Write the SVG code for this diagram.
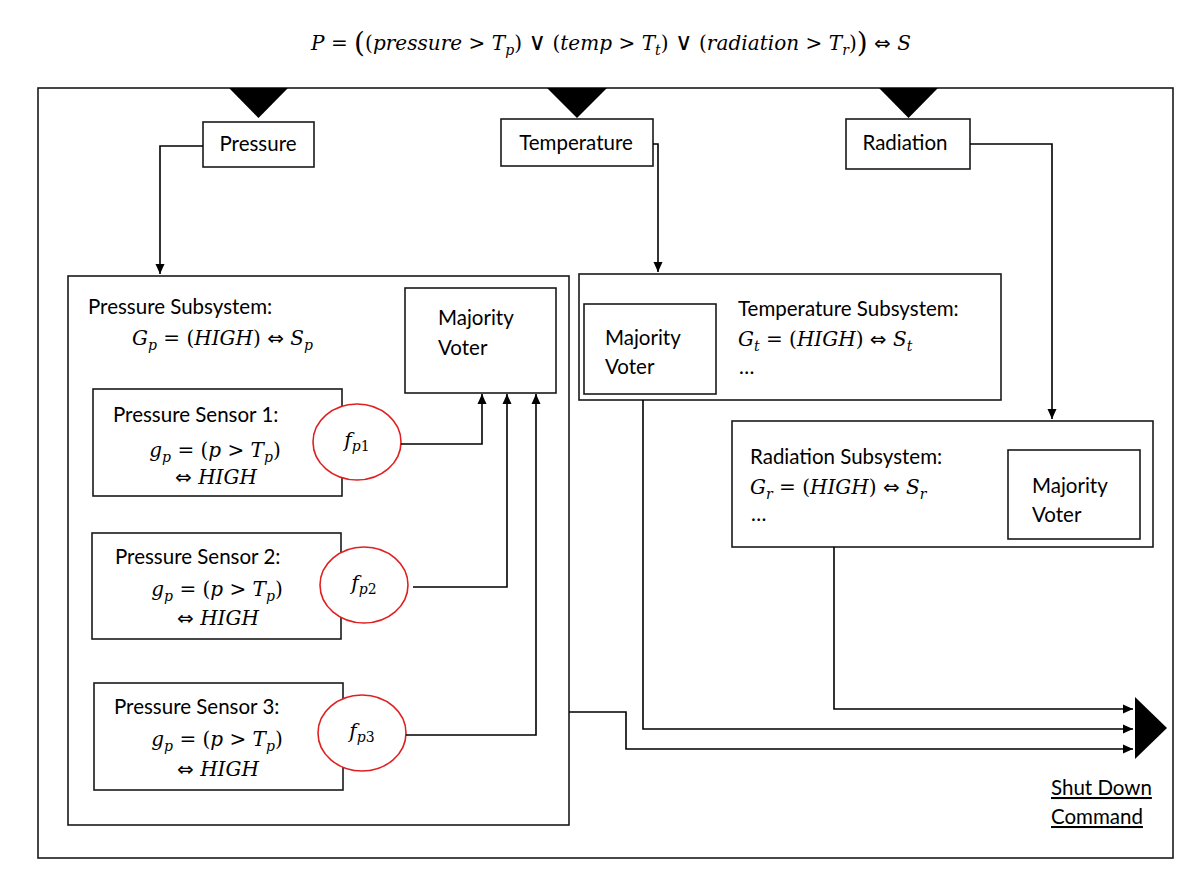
<svg xmlns="http://www.w3.org/2000/svg" width="1188" height="874" viewBox="0 0 1188 874">
<defs>
<style>
.box{fill:#fff;stroke:#1a1a1a;stroke-width:1.6}
.wire{fill:none;stroke:#000;stroke-width:1.6}
.circ{fill:#fff;stroke:#e02020;stroke-width:1.6}
.tri{fill:#000}
.lbl{font-family:Lato,"Liberation Sans",sans-serif;font-size:20.5px;fill:#000}
.m{font-family:"DejaVu Serif","Liberation Serif",serif;font-size:20px;fill:#000}
.i{font-style:italic}
.s{font-style:italic;font-size:14px}
.op{font-family:"DejaVu Sans",sans-serif;font-style:normal}
</style>
<marker id="ah" viewBox="0 0 10 10" refX="10" refY="5" markerWidth="10" markerHeight="10" markerUnits="userSpaceOnUse" orient="auto"><path d="M0,0.5 L10,5 L0,9.5 z" fill="#000"/></marker>
</defs>
<rect width="1188" height="874" fill="#fff"/>

<g id="formula">
<text class="m" x="311" y="50" font-size="21" textLength="600" lengthAdjust="spacing"><tspan class="i">P</tspan> = <tspan font-size="28" dy="2">(</tspan><tspan dy="-2">(</tspan><tspan class="i">pressure</tspan> &gt; <tspan class="i">T</tspan><tspan class="s" dy="5">p</tspan><tspan dy="-5">) </tspan><tspan class="op" font-size="24">∨</tspan> (<tspan class="i">temp</tspan> &gt; <tspan class="i">T</tspan><tspan class="s" dy="5">t</tspan><tspan dy="-5">) </tspan><tspan class="op" font-size="24">∨</tspan> (<tspan class="i">radiation</tspan> &gt; <tspan class="i">T</tspan><tspan class="s" dy="5">r</tspan><tspan dy="-5">)</tspan><tspan font-size="28" dy="2">)</tspan><tspan dy="-2"> </tspan><tspan class="op">⇔</tspan> <tspan class="i">S</tspan></text>
</g>

<g id="frame">
<rect class="box" x="38" y="88" width="1135" height="770" fill="none"/>
<polygon class="tri" points="229,88 288,88 258.5,118"/>
<polygon class="tri" points="547,88 607,88 577,118"/>
<polygon class="tri" points="879,88 938,88 908.5,118"/>
<polygon class="tri" points="1135,697 1167,728 1135,759"/>
</g>

<g id="pressure">
<rect class="box" x="203" y="122" width="111" height="45"/>
<text class="lbl" x="258" y="151" text-anchor="middle">Pressure</text>
</g>
<g id="temperature">
<rect class="box" x="501" y="119" width="152" height="47"/>
<text class="lbl" x="576" y="150" text-anchor="middle">Temperature</text>
</g>
<g id="radiation">
<rect class="box" x="846" y="119" width="124" height="50"/>
<text class="lbl" x="905" y="150" text-anchor="middle">Radiation</text>
</g>

<g id="pressure-subsystem">
<rect class="box" x="68" y="276" width="501" height="549"/>
<text class="lbl" x="88" y="314">Pressure Subsystem:</text>
<text class="m" x="132" y="345"><tspan class="i">G</tspan><tspan class="s" dy="5">p</tspan><tspan dy="-5"> = (</tspan><tspan class="i">HIGH</tspan>) <tspan class="op">⇔</tspan> <tspan class="i">S</tspan><tspan class="s" dy="5">p</tspan></text>
</g>
<g id="pressure-voter">
<rect class="box" x="405" y="288" width="151" height="105"/>
<text class="lbl" x="438" y="325">Majority</text>
<text class="lbl" x="438" y="355">Voter</text>
</g>

<g id="sensor1">
<rect class="box" x="93" y="389" width="249" height="107"/>
<text class="lbl" x="113" y="422">Pressure Sensor 1:</text>
<text class="m" x="215" y="457" text-anchor="middle"><tspan class="i">g</tspan><tspan class="s" dy="5">p</tspan><tspan dy="-5"> = (</tspan><tspan class="i">p</tspan> &gt; <tspan class="i">T</tspan><tspan class="s" dy="5">p</tspan><tspan dy="-5">)</tspan></text>
<text class="m" x="216" y="484" text-anchor="middle"><tspan class="op">⇔</tspan> <tspan class="i">HIGH</tspan></text>
</g>
<g id="fp1">
<ellipse class="circ" cx="357" cy="442" rx="44" ry="38"/>
<text class="m" x="357" y="447" text-anchor="middle"><tspan class="i">f</tspan><tspan class="s" dy="4">p</tspan><tspan font-size="14">1</tspan></text>
</g>

<g id="sensor2">
<rect class="box" x="92" y="533" width="249" height="106"/>
<text class="lbl" x="115" y="564">Pressure Sensor 2:</text>
<text class="m" x="217" y="596" text-anchor="middle"><tspan class="i">g</tspan><tspan class="s" dy="5">p</tspan><tspan dy="-5"> = (</tspan><tspan class="i">p</tspan> &gt; <tspan class="i">T</tspan><tspan class="s" dy="5">p</tspan><tspan dy="-5">)</tspan></text>
<text class="m" x="218" y="625" text-anchor="middle"><tspan class="op">⇔</tspan> <tspan class="i">HIGH</tspan></text>
</g>
<g id="fp2">
<ellipse class="circ" cx="364" cy="585" rx="44" ry="38"/>
<text class="m" x="364" y="590" text-anchor="middle"><tspan class="i">f</tspan><tspan class="s" dy="4">p</tspan><tspan font-size="14">2</tspan></text>
</g>

<g id="sensor3">
<rect class="box" x="94" y="683" width="249" height="107"/>
<text class="lbl" x="114" y="714">Pressure Sensor 3:</text>
<text class="m" x="217" y="746" text-anchor="middle"><tspan class="i">g</tspan><tspan class="s" dy="5">p</tspan><tspan dy="-5"> = (</tspan><tspan class="i">p</tspan> &gt; <tspan class="i">T</tspan><tspan class="s" dy="5">p</tspan><tspan dy="-5">)</tspan></text>
<text class="m" x="218" y="776" text-anchor="middle"><tspan class="op">⇔</tspan> <tspan class="i">HIGH</tspan></text>
</g>
<g id="fp3">
<ellipse class="circ" cx="362" cy="733" rx="44" ry="38"/>
<text class="m" x="362" y="738" text-anchor="middle"><tspan class="i">f</tspan><tspan class="s" dy="4">p</tspan><tspan font-size="14">3</tspan></text>
</g>

<g id="temperature-subsystem">
<rect class="box" x="579" y="274" width="422" height="126"/>
<text class="lbl" x="738" y="316">Temperature Subsystem:</text>
<text class="m" x="738" y="346"><tspan class="i">G</tspan><tspan class="s" dy="5">t</tspan><tspan dy="-5"> = (</tspan><tspan class="i">HIGH</tspan>) <tspan class="op">⇔</tspan> <tspan class="i">S</tspan><tspan class="s" dy="5">t</tspan></text>
<text class="lbl" x="739" y="374">…</text>
</g>
<g id="temperature-voter">
<rect class="box" x="584" y="304" width="132" height="90"/>
<text class="lbl" x="605" y="345">Majority</text>
<text class="lbl" x="605" y="374">Voter</text>
</g>

<g id="radiation-subsystem">
<rect class="box" x="732" y="421" width="421" height="126"/>
<text class="lbl" x="750" y="464">Radiation Subsystem:</text>
<text class="m" x="750" y="494"><tspan class="i">G</tspan><tspan class="s" dy="5">r</tspan><tspan dy="-5"> = (</tspan><tspan class="i">HIGH</tspan>) <tspan class="op">⇔</tspan> <tspan class="i">S</tspan><tspan class="s" dy="5">r</tspan></text>
<text class="lbl" x="751" y="521">…</text>
</g>
<g id="radiation-voter">
<rect class="box" x="1008" y="450" width="132" height="89"/>
<text class="lbl" x="1032" y="493">Majority</text>
<text class="lbl" x="1032" y="522">Voter</text>
</g>

<g id="shutdown">
<text class="lbl" x="1051" y="795" text-decoration="underline">Shut Down</text>
<text class="lbl" x="1051" y="824" text-decoration="underline">Command</text>
</g>

<g id="connectors">
<path class="wire" d="M203,146 H160 V274" marker-end="url(#ah)"/>
<path class="wire" d="M653,144 H658 V272" marker-end="url(#ah)"/>
<path class="wire" d="M970,144 H1052 V419" marker-end="url(#ah)"/>
<path class="wire" d="M401,444 H482 V394" marker-end="url(#ah)"/>
<path class="wire" d="M413,587 H507 V394" marker-end="url(#ah)"/>
<path class="wire" d="M406,735 H536 V394" marker-end="url(#ah)"/>
<path class="wire" d="M569,712 H626 V749 H1133" marker-end="url(#ah)"/>
<path class="wire" d="M643,400 V729 H1133" marker-end="url(#ah)"/>
<path class="wire" d="M834,547 V709 H1133" marker-end="url(#ah)"/>
</g>
</svg>
